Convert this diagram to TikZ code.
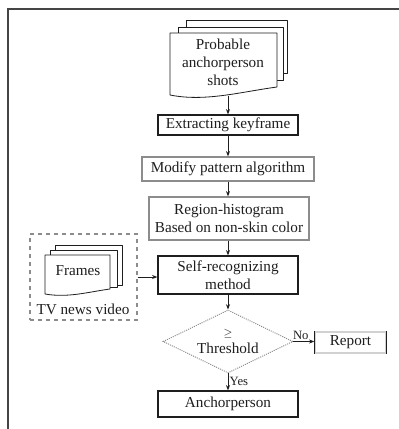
\documentclass[tikz,border=0pt]{standalone}
\usepackage{fontspec}
\setmainfont{Liberation Serif}
\usetikzlibrary{arrows.meta,shapes.geometric}
\definecolor{ink}{HTML}{1E1E1E}
\definecolor{edge}{HTML}{454545}
\definecolor{soft}{HTML}{8C8C8C}
\tikzset{
  frame/.style={draw=edge, line width=1.5pt},
  proc/.style={draw=ink, line width=0.9pt, fill=white, align=center, inner sep=1pt, text=ink},
  procl/.style={proc, draw=soft},
  page/.style={draw=ink, line width=0.6pt, fill=white, line join=round},
  test/.style={diamond, draw=soft, dash pattern=on 0.8pt off 0.8pt, line width=0.7pt,
    aspect=2, inner sep=0pt, align=center, text=ink,
    minimum width=97.5pt, minimum height=47.25pt},
  group/.style={draw=soft, dashed, line width=0.8pt, inner sep=0pt},
  flow/.style={draw=ink, line width=0.6pt, -{Stealth[length=4pt,width=3pt]}},
  lab/.style={text=ink, align=center},
  tag/.style={text=ink, font=\fontsize{9.5}{10}\selectfont, inner sep=1pt},
}

\begin{document}
\begin{tikzpicture}[x=0.75pt, y=-0.75pt, font=\fontsize{11.4}{13.6}\selectfont]
  \useasboundingbox[fill=white] (0,0) rectangle (399,429);
  \draw[frame] (399,9) -- (8,9) -- (8,429);

  % stacked pages: probable shots
  \draw[page] (186,20) rectangle (287,73);
  \draw[page] (178,27) rectangle (283,80);
  \draw[page] (170,33) -- (277,33) -- (277,87)
    .. controls (240,92) and (205,102) .. (170,95) -- cycle;
  \node[lab] (shots) at (223,62) {Probable\\anchorperson\\shots};
  \coordinate (shots-b) at (228,95.5);

  % main chain
  \node[proc, minimum width=105pt, minimum height=15pt] (key) at (228,125) {Extracting keyframe};
  \node[procl, minimum width=129pt, minimum height=18pt] (modify) at (228,169) {Modify pattern algorithm};
  \node[procl, minimum width=120pt, minimum height=32.25pt] (region) at (229,218.5)
    {Region-histogram\\Based on non-skin color};
  \node[proc, minimum width=105pt, minimum height=28.5pt] (self) at (228,275) {Self-recognizing\\method};
  \node[test] (thr) at (228,341.5) {{\fontsize{8}{9}\selectfont$\geq$}\\[-1pt]Threshold};
  \node[proc, draw=soft!40, minimum width=53.25pt, minimum height=15.75pt] (report) at (350.5,342.5) {Report};
  \draw[draw=ink, line width=0.9pt] (report.north west) -- (report.south west)
    (report.north east) -- (report.south east);
  \node[proc, minimum width=105pt, minimum height=19.5pt] (anchor) at (228,404) {Anchorperson};

  % input group: tv news frames
  \node[group, minimum width=80.25pt, minimum height=64.5pt] (video) at (83.5,277) {};
  \draw[page] (55,245) rectangle (122,285);
  \draw[page] (50,250) rectangle (117,287);
  \draw[page] (45,255) -- (110,255) -- (110,289)
    .. controls (88,292) and (68,298) .. (45,294) -- cycle;
  \node[lab] (frames) at (78,271) {Frames};
  \node[lab] (tvnews) at (83,309) {TV news video};

  \draw[flow] (shots-b) -- (key);
  \draw[flow] (key) -- (modify);
  \draw[flow] (modify) -- (region.north -| modify);
  \draw[flow] (region.south -| modify) -- (self);
  \draw[flow] (video.east) -- (self.west |- video.east);
  \draw[flow] (self) -- (thr);
  \draw[flow] (thr.east) -- node[tag, above, pos=0.35] {No} (thr.east -| report.west);
  \draw[flow] (thr) -- node[tag, right, pos=0.45] {Yes} (anchor);
\end{tikzpicture}
\end{document}
